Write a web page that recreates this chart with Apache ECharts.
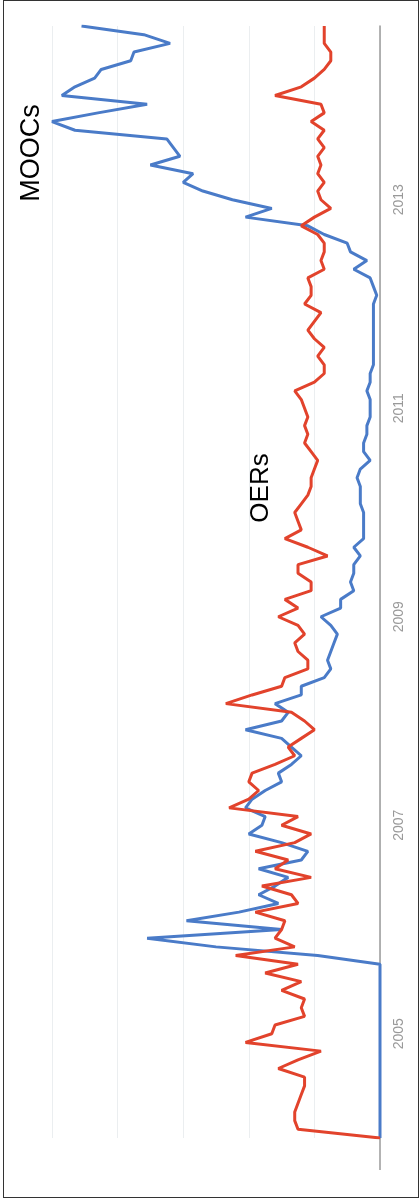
<!DOCTYPE html>
<html>
<head>
<meta charset="utf-8">
<script src="https://cdn.jsdelivr.net/npm/echarts@6/dist/echarts.min.js"></script>
<style>
  html, body { margin: 0; padding: 0; background: #fff; }
  #frame { position: absolute; left: 3px; top: 0; width: 414px; height: 1196px; border: 1px solid #333; box-sizing: content-box; }
  #chart { position: absolute; left: 0; top: 0; width: 420px; height: 1200px; }
</style>
</head>
<body>
<div id="frame"></div>
<div id="chart"></div>
<script>
// monthly Google Trends style interest, Jan 2004 .. Sep 2014
const firstYear = 2004;
const tickYears = ["2005", "2007", "2009", "2011", "2013"];

const moocs = [
  0, 0, 0, 0, 0, 0, 0, 0, 0, 0, 0, 0,
  0, 0, 0, 0, 0, 0, 0, 0, 0, 19, 50, 71,
  30, 59, 43, 31, 37, 32, 28, 37, 24, 22, 30, 40,
  36, 35, 41, 39, 35, 30, 31, 27, 24, 27, 30, 41,
  30, 28, 32, 24, 24, 17, 15, 16, 15, 14, 13, 15,
  18, 12, 12, 8, 9, 8, 8, 6, 8, 5, 5, 5,
  5, 6, 6, 6, 7, 6, 3, 5, 5, 4, 4, 3,
  3, 3, 4, 3, 3, 2, 2, 2, 2, 2, 2, 2,
  2, 1, 2, 3, 8, 4, 9, 10, 17, 22, 41, 33,
  45, 54, 60, 57, 70, 61, 63, 65, 93, 100, 86, 71,
  97, 93, 87, 85, 76, 75, 64, 72, 91
];

const oers = [
  0, 25, 26, 26, 25, 24, 23, 23, 31, 25, 18, 41,
  33, 32, 23, 24, 23, 30, 24, 35, 25, 44, 26, 32,
  30, 29, 38, 25, 27, 36, 21, 32, 28, 38, 26, 21,
  30, 25, 46, 40, 37, 40, 39, 32, 26, 28, 24, 20,
  23, 27, 47, 39, 30, 29, 22, 22, 25, 26, 23, 25,
  31, 25, 29, 21, 21, 25, 25, 16, 22, 29, 24, 25,
  26, 24, 22, 21, 21, 20, 19, 21, 23, 22, 23, 22,
  23, 24, 26, 20, 17, 17, 19, 17, 20, 22, 20, 18,
  23, 21, 21, 22, 17, 18, 17, 17, 19, 24, 20, 15,
  18, 19, 17, 19, 18, 19, 17, 19, 17, 21, 17, 18,
  32, 24, 20, 17, 15, 15, 17, 17, 17
];

const months = [];
for (let i = 0; i < moocs.length; i++) {
  const y = firstYear + Math.floor(i / 12);
  const m = (i % 12) + 1;
  months.push(y + "-" + (m < 10 ? "0" + m : m));
}

const chart = echarts.init(document.getElementById("chart"), null, { renderer: "canvas" });

const option = {
  animation: false,
  backgroundColor: "transparent",
  grid: { left: 52, right: 40, top: 26, bottom: 62 },
  xAxis: {
    type: "value",
    inverse: true,
    min: 0,
    max: 100,
    interval: 20,
    axisLabel: { show: false },
    axisLine: { show: false },
    axisTick: { show: false },
    splitLine: { lineStyle: { color: "#ebeef0", width: 1 } }
  },
  yAxis: {
    type: "category",
    position: "right",
    boundaryGap: false,
    data: months,
    axisLine: { show: true, lineStyle: { color: "#9a9a9a", width: 1.5 } },
    axisTick: { show: false },
    splitLine: { show: false },
    axisLabel: {
      rotate: 90,
      margin: 12,
      color: "#999",
      fontSize: 14,
      fontFamily: "Liberation Sans, Arial, sans-serif",
      interval: (idx, val) => val.endsWith("-01") && tickYears.includes(val.slice(0, 4)),
      formatter: (val) => val.slice(0, 4)
    }
  },
  series: [
    {
      name: "MOOCs",
      type: "line",
      data: moocs,
      symbol: "none",
      lineStyle: { color: "#4a7bc8", width: 3 },
      z: 2
    },
    {
      name: "OERs",
      type: "line",
      data: oers,
      symbol: "none",
      lineStyle: { color: "#e2432c", width: 3 },
      z: 3
    }
  ]
};

chart.setOption(option);

// baseline runs a little past the first month, plus the rotated series names
const x0 = chart.convertToPixel({ xAxisIndex: 0 }, 0);
const yStart = chart.convertToPixel({ yAxisIndex: 0 }, months[0]);
chart.setOption({
  graphic: [
    {
      type: "line",
      shape: { x1: x0, y1: yStart, x2: x0, y2: yStart + 32 },
      style: { stroke: "#9a9a9a", lineWidth: 1.5 }
    },
    {
      type: "text",
      x: 32, y: 153, rotation: Math.PI / 2,
      style: { text: "MOOCs", fill: "#000", font: "27px Liberation Sans, Arial, sans-serif", align: "center", verticalAlign: "middle" }
    },
    {
      type: "text",
      x: 261, y: 488, rotation: Math.PI / 2,
      style: { text: "OERs", fill: "#000", font: "26px Liberation Sans, Arial, sans-serif", align: "center", verticalAlign: "middle" }
    }
  ]
});
</script>
</body>
</html>
